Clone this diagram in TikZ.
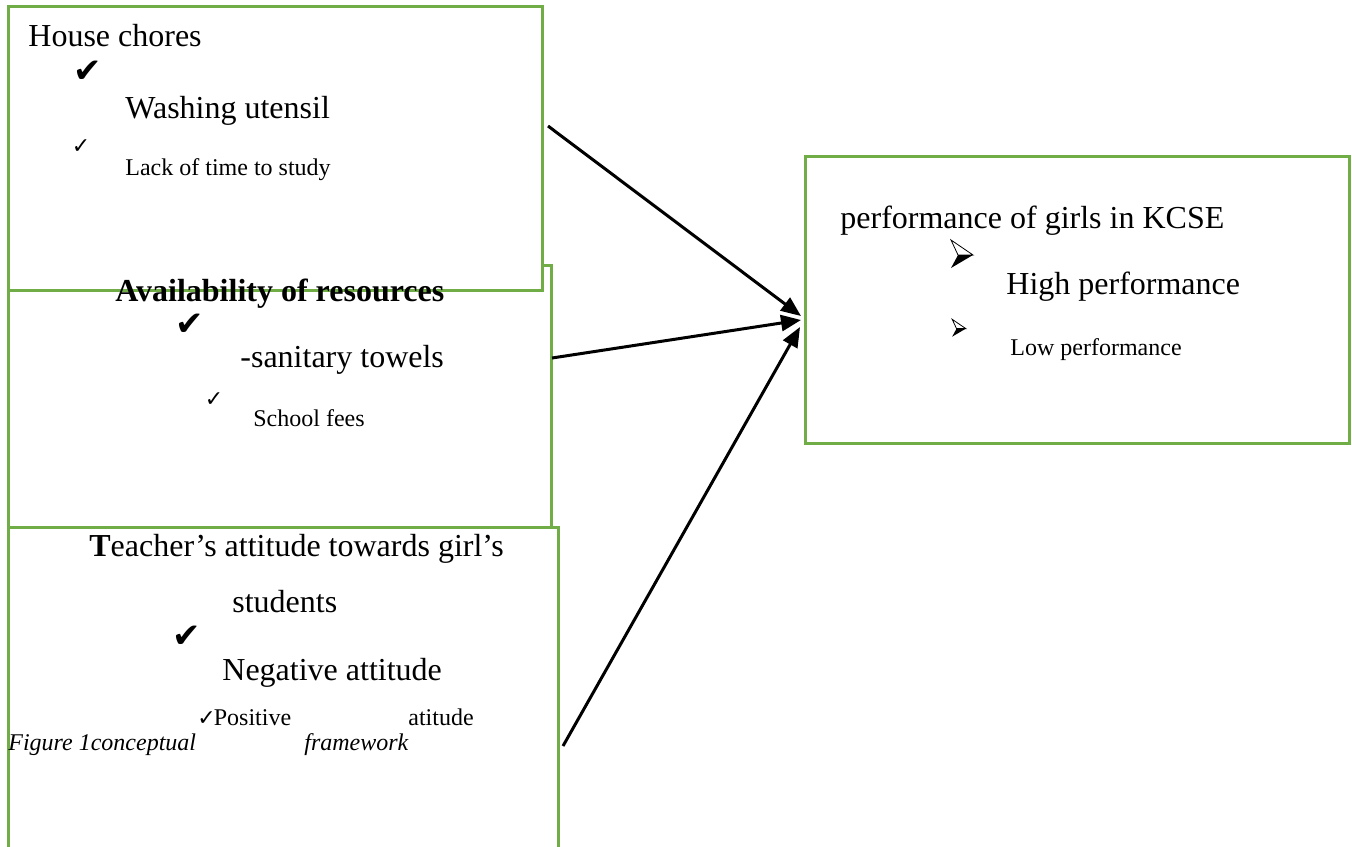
\documentclass[tikz,border=0pt]{standalone}
\usepackage{fontspec}
\setmainfont{Liberation Serif}
\newfontfamily\symfont{DejaVu Sans}
\usetikzlibrary{arrows.meta}
\definecolor{bgreen}{RGB}{112, 173, 71}

\newcommand{\bigtick}{{\symfont\fontsize{17}{17}\selectfont ✔}}
\newcommand{\smalltick}{{\symfont\fontsize{11}{11}\selectfont ✓}}

\begin{document}
\begin{tikzpicture}[x=0.5pt, y=-0.5pt,
    box/.style={draw=bgreen, line width=1.5pt, fill=white},
    big/.style={anchor=base west, inner sep=0pt, font=\fontsize{16}{19}\selectfont},
    small/.style={anchor=base west, inner sep=0pt, font=\fontsize{12}{14}\selectfont},
    tick/.style={inner sep=0pt},
    arr/.style={line width=1.5pt, -{Triangle[length=10pt, width=8pt]}},
    dingarrow/.pic={
        \draw [line width=0.4pt, line join=miter, fill=white] (-11,-14) -- (11,1) -- (-4,1) -- cycle;
        \fill (-4,1) -- (11,1) -- (-11,14) -- cycle;
    }]
    \useasboundingbox (0,0) rectangle (1352,846);

    % boxes
    \draw [box] (8,850) |- (558,527) -- (558,850);
    \draw [box] (8,265) rectangle (551,527);
    \draw [box] (8,6) rectangle (542,290);
    \draw [box] (805,156) rectangle (1349,443);

    % house chores
    \node[big] (hc) at (28,46) {House chores};
    \node[tick] (hc1) at (88,72) {\bigtick};
    \node[big] (wash) at (125,118) {Washing utensil};
    \node[tick] (hc2) at (81,147) {\smalltick};
    \node[small] (lack) at (125,175) {Lack of time to study};

    % resources
    \node[big, font=\fontsize{16}{19}\selectfont\bfseries] (res) at (115,301) {Availability of resources};
    \node[tick] (res1) at (190,325) {\bigtick};
    \node[big] (san) at (240,367) {-sanitary towels};
    \node[tick] (res2) at (214,400) {\smalltick};
    \node[small] (fees) at (253,426) {School fees};

    % teachers
    \node[big] (tch) at (89,556) {\textbf{T}eacher’s attitude towards girl’s};
    \node[big] (stud) at (232,612) {students};
    \node[tick] (tch1) at (187,637) {\bigtick};
    \node[big] (neg) at (222,680) {Negative attitude};
    \node[small] (pos) at (197,725) {\smalltick\hspace{-1pt}Positive};
    \node[small] (ati) at (408,725) {atitude};
    \node[small, font=\fontsize{12}{14}\selectfont\itshape] (fig) at (8,750) {Figure 1conceptual};
    \node[small, font=\fontsize{12}{14}\selectfont\itshape] (fw) at (304,750) {framework};

    % performance
    \node[big] (perf) at (840,228) {performance of girls in KCSE};
    \pic at (962,254) {dingarrow};
    \node[big] (high) at (1006,294) {High performance};
    \pic [scale=0.62] at (959,328) {dingarrow};
    \node[small] (low) at (1010,355) {Low performance};

    \coordinate (s1) at (548,126);
    \coordinate (s2) at (552,358);
    \coordinate (s3) at (563,746);
    \coordinate (t1) at (801,316);
    \coordinate (t2) at (801,320);
    \coordinate (t3) at (800,327);
    \draw [arr] (s1) -- (t1);
    \draw [arr] (s2) -- (t2);
    \draw [arr] (s3) -- (t3);
\end{tikzpicture}
\end{document}
